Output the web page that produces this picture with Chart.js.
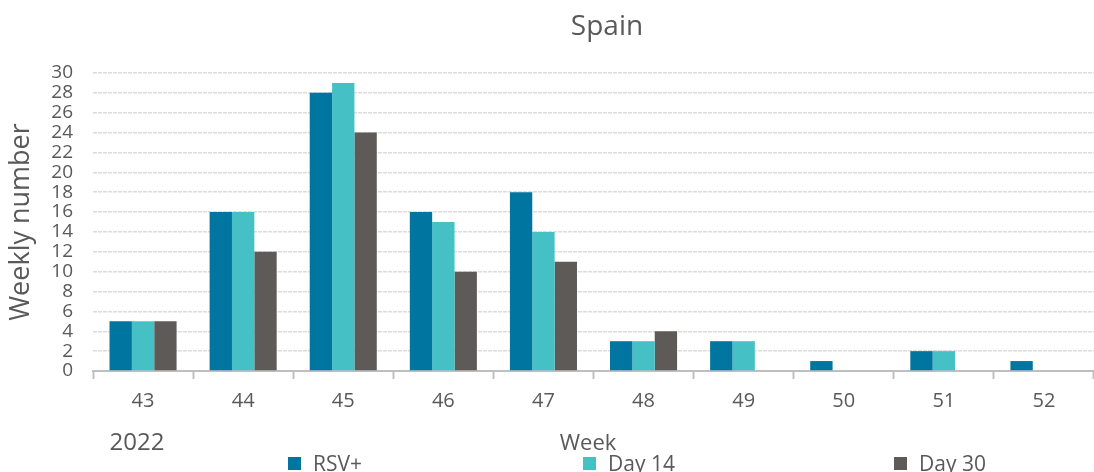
<!DOCTYPE html>
<html>
<head>
<meta charset="utf-8">
<script src="https://cdn.jsdelivr.net/npm/chart.js@4.4.1/dist/chart.umd.min.js"></script>
<style>
  html, body { margin: 0; padding: 0; background: #fff; }
  #wrap { width: 1094px; height: 472px; position: relative; }
</style>
</head>
<body>
<div id="wrap"><canvas id="chart"></canvas></div>
<script>
// weeks of 2022
const weeks = ['43', '44', '45', '46', '47', '48', '49', '50', '51', '52'];
const rsvPositive = [5, 16, 28, 16, 18, 3, 3, 1, 2, 1];
const day14 = [5, 16, 29, 15, 14, 3, 3, 0, 2, 0];
const day30 = [5, 12, 24, 10, 11, 4, 0, 0, 0, 0];
const yTicks = [0, 2, 4, 6, 8, 10, 12, 14, 16, 18, 20, 22, 24, 26, 28, 30];

const textColor = '#595959';
const fontFamily = '"Open Sans", "Noto Sans", sans-serif';

// title, year, x title and legend drawn by hand to match the original layout
const extraText = {
    id: 'extraText',
    afterDraw(chart) {
        const ctx = chart.ctx;
        ctx.save();
        ctx.fillStyle = textColor;
        ctx.textBaseline = 'alphabetic';

        ctx.font = '28px ' + fontFamily;
        ctx.textAlign = 'center';
        ctx.fillText('Spain', 607, 35);

        ctx.font = '24px ' + fontFamily;
        ctx.fillText('2022', 137, 450);

        ctx.font = '22px ' + fontFamily;
        ctx.fillText('Week', 588, 450);

        const legendX = [288, 583, 894];
        ctx.textAlign = 'left';
        ctx.font = '21px ' + fontFamily;
        chart.data.datasets.forEach((ds, i) => {
            ctx.fillStyle = ds.backgroundColor;
            ctx.fillRect(legendX[i], 457, 13, 13);
            ctx.fillStyle = textColor;
            ctx.fillText(ds.label, legendX[i] + 25, 471);
        });
        ctx.restore();
    }
};

const ctx = document.getElementById('chart').getContext('2d');
new Chart(ctx, {
    type: 'bar',
    data: {
        labels: weeks,
        datasets: [
            { label: 'RSV+', data: rsvPositive, backgroundColor: '#00759F' },
            { label: 'Day 14', data: day14, backgroundColor: '#45C1C6' },
            { label: 'Day 30', data: day30, backgroundColor: '#5E5A57' }
        ]
    },
    options: {
        responsive: true,
        maintainAspectRatio: false,
        animation: false,
        layout: { padding: { top: 73, right: 0, bottom: 0, left: 0 } },
        datasets: {
            bar: { categoryPercentage: 0.67, barPercentage: 1.0, borderWidth: 0 }
        },
        scales: {
            x: {
                afterFit(scale) { scale.height = 101; },
                grid: {
                    offset: true,
                    drawOnChartArea: false,
                    drawTicks: true,
                    tickLength: 8,
                    tickWidth: 2,
                    tickColor: '#BFBFBF'
                },
                border: { display: true, color: '#BFBFBF', width: 2 },
                ticks: {
                    color: textColor,
                    font: { family: fontFamily, size: 20 },
                    padding: 10,
                    maxRotation: 0
                }
            },
            y: {
                min: 0,
                max: 30,
                afterFit(scale) { scale.width = 93; },
                afterBuildTicks(scale) {
                    scale.ticks = yTicks.map(v => ({ value: v }));
                },
                grid: {
                    color: '#DCDCDC',
                    lineWidth: 1.5,
                    drawTicks: false
                },
                border: { display: false, dash: [4, 1] },
                ticks: {
                    autoSkip: false,
                    color: textColor,
                    font: { family: fontFamily, size: 19 },
                    padding: 20
                },
                title: {
                    display: true,
                    text: 'Weekly number',
                    color: textColor,
                    font: { family: fontFamily, size: 27 },
                    padding: { top: 5, bottom: 0 }
                }
            }
        },
        plugins: {
            legend: { display: false },
            title: { display: false },
            tooltip: { enabled: false }
        }
    },
    plugins: [extraText]
});
</script>
</body>
</html>
